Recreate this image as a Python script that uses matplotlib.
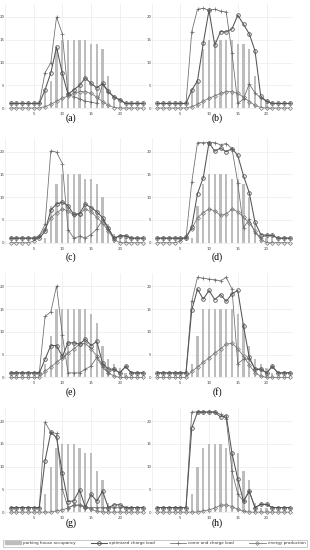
import numpy as np
import matplotlib
matplotlib.use('Agg')
import matplotlib.pyplot as plt
from matplotlib.patches import Patch
from matplotlib.lines import Line2D

hours = np.arange(1, 25)

# parking house occupancy (shared by the panel pairs)
occ_ab = [0, 0, 0, 0, 0, 0, 4, 6, 13, 15, 15, 15, 15, 15, 14, 14, 13, 7, 2, 1, 0, 0, 0, 0]
occ_cd = [0, 0, 0, 0, 0, 0, 1, 8, 13, 15, 15, 15, 15, 14, 14, 13, 10, 4, 2, 1, 1, 0, 0, 0]
occ_ef = [0, 0, 0, 0, 0, 0, 3, 9, 15, 15, 15, 15, 15, 15, 14, 12, 7, 4, 3, 2, 1, 0, 0, 0]
occ_gh = [0, 0, 0, 0, 0, 0, 4, 10, 14, 15, 15, 15, 14, 13, 13, 9, 7, 2, 1, 1, 0, 0, 0, 0]

# energy production
pv_ab = [0, 0, 0, 0, 0, 0, 0.3, 0.8, 1.5, 2.1, 2.7, 3.2, 3.6, 3.6, 3.2, 2.4, 1.4, 0.6, 0.1, 0, 0, 0, 0, 0]
pv_cd = [0, 0, 0, 0, 0.3, 1.5, 3.0, 5.5, 6.6, 7.4, 7.0, 6.0, 6.3, 7.4, 6.8, 5.6, 4.3, 2.6, 0.7, 0, 0, 0, 0, 0]
pv_ef = [0, 0, 0, 0, 0, 0, 1.3, 2.3, 3.3, 4.3, 5.3, 6.3, 7.3, 7.5, 6.3, 4.7, 2.7, 1.0, 0.3, 0, 0, 0, 0, 0]
pv_gh = [0, 0, 0, 0, 0, 0, 0, 0, 0.3, 0.5, 0.9, 1.5, 1.6, 1.2, 0.6, 0.2, 0, 0, 0, 0, 0, 0, 0, 0]

# optimized charge load
opt_a = [1, 1, 1, 1, 1, 1, 4.0, 7.7, 13.4, 7.6, 3.0, 4.0, 5.0, 6.6, 5.4, 4.4, 5.4, 3.7, 2.4, 1.8, 1, 1, 1, 1]
opt_b = [1, 1, 1, 1, 1, 1, 3.9, 6.0, 14.2, 21.5, 13.8, 16.8, 16.7, 17.4, 20.4, 18.4, 16.3, 12.6, 2.6, 1.5, 1, 1, 1, 1]
opt_c = [1, 1, 1, 1, 1, 1, 2.5, 7.2, 8.5, 8.9, 8.1, 6.2, 6.4, 8.5, 7.7, 6.8, 5.5, 3.2, 1.0, 1.5, 1.5, 1, 1, 1]
opt_d = [1, 1, 1, 1, 1, 1, 3.5, 10.8, 14.3, 22.0, 20.1, 20.8, 20.0, 20.7, 19.2, 14.7, 11.0, 4.5, 1.8, 1.6, 1.6, 1, 1, 1]
opt_e = [1, 1, 1, 1, 1, 1, 4.0, 7.0, 7.0, 4.6, 7.6, 7.6, 7.3, 8.4, 7.0, 7.9, 3.1, 1.8, 1.8, 1.0, 2.4, 1, 1, 1]
opt_f = [1, 1, 1, 1, 1, 1, 14.8, 19.4, 17.2, 19.1, 17.1, 18.2, 16.7, 18.4, 19.1, 11.3, 4.4, 1.8, 1.8, 1.0, 2.4, 1, 1, 1]
opt_g = [1, 1, 1, 1, 1, 1, 11.3, 17.5, 16.4, 8.6, 2.3, 2.5, 4.9, 1.1, 3.9, 2.4, 4.6, 1.0, 1.6, 1.6, 1, 1, 1, 1]
opt_h = [1, 1, 1, 1, 1, 1, 18.5, 22.0, 22.0, 22.0, 22.0, 20.9, 21.2, 12.9, 7.3, 2.4, 4.6, 1.0, 1.7, 1.7, 1, 1, 1, 1]

# come and charge load
cc_a = [1, 1, 1, 1, 1, 1, 7.8, 9.9, 20.0, 16.3, 3.0, 2.5, 2.0, 1.5, 1.3, 1.0, 5.2, 3.5, 2.4, 1.8, 1, 1, 1, 1]
cc_b = [1, 1, 1, 1, 1, 1, 16.8, 21.7, 21.9, 21.5, 21.7, 21.3, 21.1, 12.1, 1.0, 2.0, 5.3, 3.3, 2.2, 1.5, 1, 1, 1, 1]
cc_c = [1, 1, 1, 1, 1, 1.5, 4.0, 20.2, 19.9, 17.4, 2.9, 1.0, 1.4, 1.0, 1.8, 3.0, 5.0, 3.0, 1.0, 1.5, 1.5, 1, 1, 1]
cc_d = [1, 1, 1, 1, 1, 1, 13.3, 22.0, 22.0, 22.0, 22.0, 21.5, 21.8, 20.7, 13.2, 3.3, 5.1, 2.2, 1.1, 1.6, 1.6, 1, 1, 1]
cc_e = [1, 1, 1, 1, 1, 1, 13.4, 14.4, 20.1, 9.4, 1.0, 1.0, 1.0, 1.8, 2.5, 4.4, 2.2, 1.0, 1.8, 1.0, 2.4, 1, 1, 1]
cc_f = [1, 1, 1, 1, 1, 1, 16.7, 22.0, 21.8, 21.6, 21.5, 21.2, 22.0, 19.4, 3.0, 4.0, 4.1, 1.8, 1.8, 1.0, 2.4, 1, 1, 1]
cc_g = [1, 1, 1, 1, 1, 1, 19.8, 17.5, 17.3, 5.1, 1.0, 1.5, 1.5, 1.0, 1.0, 1.0, 1.0, 1.0, 1.0, 1.0, 1, 1, 1, 1]
cc_h = [1, 1, 1, 1, 1, 1, 22.0, 22.0, 22.0, 22.0, 22.0, 21.5, 20.5, 9.0, 4.0, 2.4, 4.6, 1.0, 1.7, 1.7, 1, 1, 1, 1]

labels = ['(a)', '(b)', '(c)', '(d)', '(e)', '(f)', '(g)', '(h)']
occs = [occ_ab, occ_ab, occ_cd, occ_cd, occ_ef, occ_ef, occ_gh, occ_gh]
pvs = [pv_ab, pv_ab, pv_cd, pv_cd, pv_ef, pv_ef, pv_gh, pv_gh]
opts = [opt_a, opt_b, opt_c, opt_d, opt_e, opt_f, opt_g, opt_h]
ccs = [cc_a, cc_b, cc_c, cc_d, cc_e, cc_f, cc_g, cc_h]

W, H = 310, 550
ux, uy = 5.75, 4.55          # pixels per hour / per unit
col_x0 = [4.8, 151.5]        # pixel x of hour 0
row_y0 = [108, 242.7, 377.4, 512.1]  # pixel y of value 0
lab_dy = [10, 14, 15, 11]

fig = plt.figure(figsize=(W / 100, H / 100), dpi=100)

bar_c = '#bdbdbd'
opt_col = '#555555'
cc_col = '#6a6a6a'
pv_col = '#7a7a7a'

for i in range(8):
    r, c = divmod(i, 2)
    x0, y0 = col_x0[c], row_y0[r]
    ax = fig.add_axes([x0 / W, 1 - (y0 + 0.6 * uy) / H, 24.6 * ux / W, 23.6 * uy / H])
    ax.bar(hours, occs[i], width=0.38, color=bar_c, zorder=1)
    ax.plot(hours, pvs[i], color=pv_col, lw=0.6, marker='D', ms=2.0, mfc='none', mew=0.5, zorder=3)
    ax.plot(hours, ccs[i], color=cc_col, lw=0.55, marker='+', ms=2.5, mew=0.5, zorder=4)
    ax.plot(hours, opts[i], color=opt_col, lw=0.75, marker='o', ms=2.6, mfc='none', mew=0.6, zorder=5)
    ax.set_xlim(0, 24.6)
    ax.set_ylim(-0.6, 23)
    ax.set_xticks([0, 5, 10, 15, 20])
    ax.set_xticklabels(['', '5', '10', '15', '20'])
    ax.set_yticks([0, 5, 10, 15, 20])
    ax.tick_params(length=0, labelsize=2.8, colors='#444444')
    ax.tick_params(axis='y', pad=0.2)
    ax.tick_params(axis='x', pad=0.8)
    ax.grid(True, color='#e6e6e6', lw=0.4, zorder=0)
    ax.set_axisbelow(True)
    for s in ax.spines.values():
        s.set_visible(False)
    fig.text((x0 + 11.5 * ux) / W, 1 - (y0 + lab_dy[r]) / H, labels[i], ha='center', va='center',
             family='Liberation Serif', fontsize=7)

handles = [
    Patch(color=bar_c),
    Line2D([], [], color=opt_col, lw=0.75, marker='o', ms=2.6, mfc='none', mew=0.6),
    Line2D([], [], color=cc_col, lw=0.55, marker='+', ms=2.5, mew=0.5),
    Line2D([], [], color=pv_col, lw=0.6, marker='D', ms=2.0, mfc='none', mew=0.5),
]
names = ['parking house occupancy', 'optimized charge load', 'come and charge load', 'energy production']
leg = fig.legend(handles, names, ncol=4, loc='lower left', mode='expand',
                 bbox_to_anchor=(3 / W, 1 - 547 / H, 304 / W, 11 / H),
                 fontsize=3.0, frameon=True, fancybox=False, edgecolor='#888888',
                 handlelength=4.0, handleheight=0.8, handletextpad=0.5,
                 borderpad=0.4, borderaxespad=0, labelcolor='#333333')
leg.get_frame().set_linewidth(0.4)

fig.savefig('out.png', dpi=100)
